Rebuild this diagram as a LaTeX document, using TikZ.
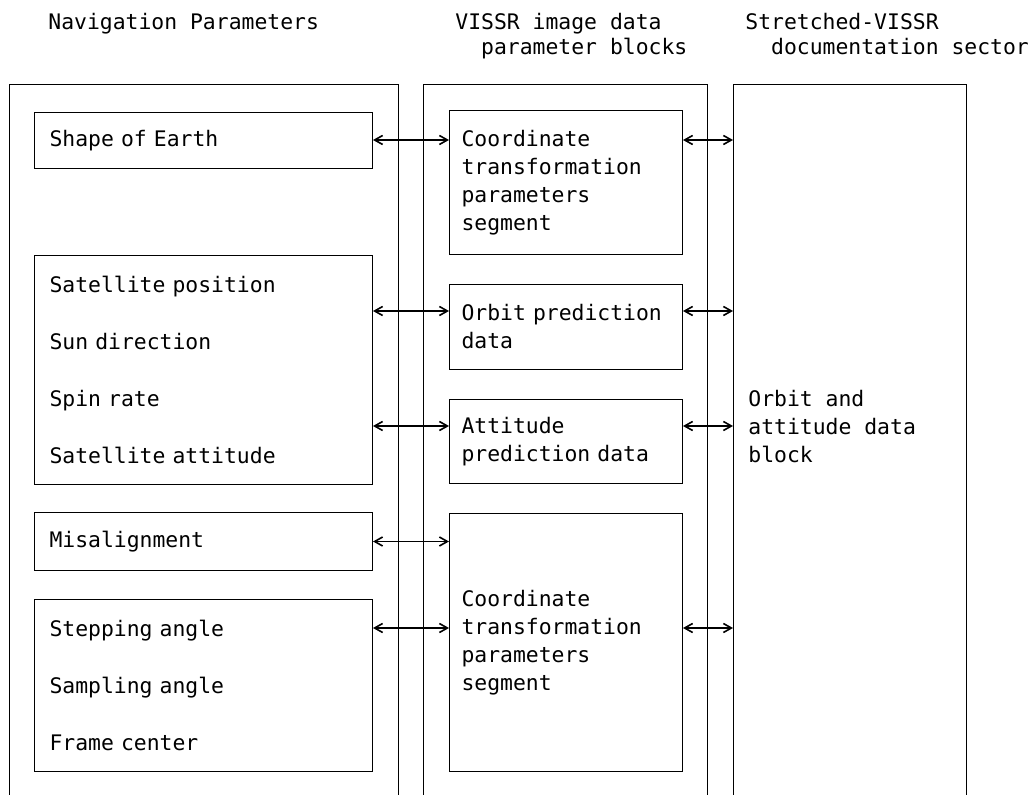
\documentclass[tikz,border=0pt]{standalone}
\usepackage{fontspec}
\setmonofont{DejaVu Sans Mono}
\usetikzlibrary{arrows.meta}

\tikzset{
  col/.style={draw, line width=0.4pt, anchor=north west, inner sep=0pt, minimum height=370pt},
  box/.style={draw, line width=0.5pt, anchor=north west, align=left, inner ysep=0pt},
  lbox/.style={box, inner xsep=7.5pt, text width=154pt},
  mbox/.style={box, inner xsep=6pt, text width=104.5pt},
  grp/.style={font=\ttfamily\fontsize{10.7}{28.5}\selectfont},
  head/.style={anchor=north west, inner sep=0pt, align=left, font=\ttfamily\fontsize{10.7}{12.5}\selectfont},
  txt/.style={anchor=west, inner sep=0pt, align=left},
  link/.style={{Straight Barb[length=4pt,width=4.5pt]}-{Straight Barb[length=4pt,width=4.5pt]}, line width=0.8pt}
}

\begin{document}
\begin{tikzpicture}[x=0.5pt, y=-0.5pt, every node/.style={font=\ttfamily\fontsize{10.7}{14}\selectfont}]
    \clip (0,0) rectangle (1031,795);

    \node[head] (hnav) at (48,13) {Navigation Parameters};
    \node[head] (hvis) at (455,13) {VISSR image data\\\ \ parameter blocks};
    \node[head] (hdoc) at (745,13) {Stretched-VISSR\\\ \ documentation sector};

    \node[col, minimum width=194.5pt] (navcol) at (9,84) {};
    \node[col, minimum width=142pt] (viscol) at (423,84) {};
    \node[col, minimum width=116.5pt] (doccol) at (733,84) {};

    \node[lbox, minimum height=28pt] (shape) at (34,112) {Shape of Earth};
    \node[lbox, grp, minimum height=114.5pt] (satgrp) at (34,255) {Satellite position\\Sun direction\\Spin rate\\Satellite attitude};
    \node[lbox, minimum height=29pt] (misal) at (34,512) {Misalignment};
    \node[lbox, grp, minimum height=86pt] (stepgrp) at (34,599) {Stepping angle\\Sampling angle\\Frame center};

    \node[mbox, minimum height=72pt] (coorda) at (449,110) {Coordinate\\transformation\\parameters\\segment};
    \node[mbox, minimum height=42.5pt] (orbprd) at (449,284) {Orbit prediction\\data};
    \node[mbox, minimum height=42pt] (attprd) at (449,399) {Attitude\\prediction data};
    \node[mbox, minimum height=129pt] (coordb) at (449,513) {Coordinate\\transformation\\parameters\\segment};

    \node[txt] (oadb) at (748,427) {Orbit and\\attitude data\\block};

    \coordinate (rowa) at ([yshift=-15pt]coorda.north);
    \coordinate (rowb) at ([yshift=-13.5pt]orbprd.north);
    \coordinate (rowc) at ([yshift=-13.5pt]attprd.north);
    \coordinate (rowd) at ([yshift=-14.5pt]stepgrp.north);

    \draw[link] (shape.east |- rowa) -- (coorda.west |- rowa);
    \draw[link] (coorda.east |- rowa) -- (doccol.west |- rowa);
    \draw[link] (satgrp.east |- rowb) -- (orbprd.west |- rowb);
    \draw[link] (orbprd.east |- rowb) -- (doccol.west |- rowb);
    \draw[link] (satgrp.east |- rowc) -- (attprd.west |- rowc);
    \draw[link] (attprd.east |- rowc) -- (doccol.west |- rowc);
    \draw[link] (misal.east) -- (misal.east -| coordb.west);
    \draw[link] (stepgrp.east |- rowd) -- (coordb.west |- rowd);
    \draw[link] (coordb.east |- rowd) -- (doccol.west |- rowd);
\end{tikzpicture}
\end{document}
